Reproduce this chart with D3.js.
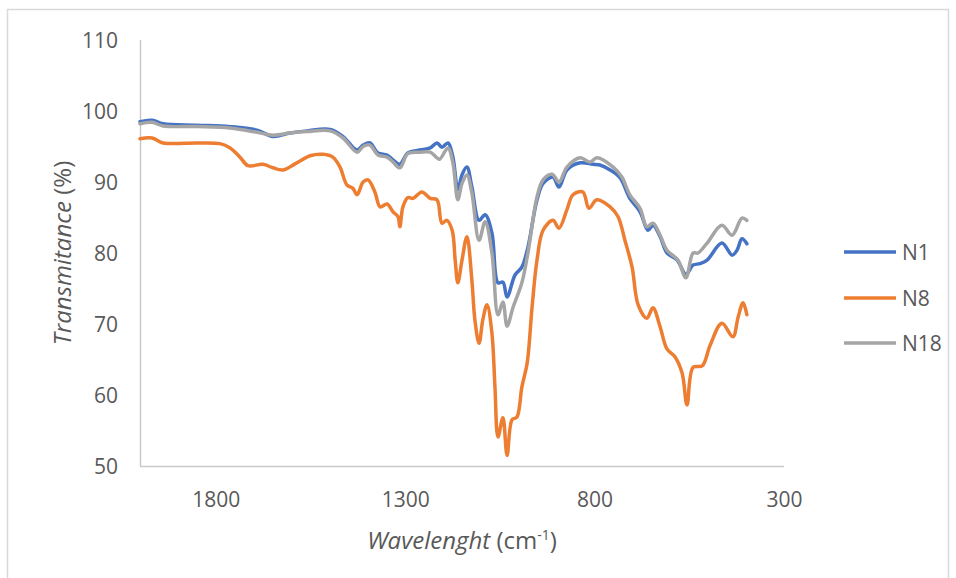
<!DOCTYPE html>
<html>
<head>
<meta charset="utf-8">
<script src="https://cdn.jsdelivr.net/npm/d3@7"></script>
<style>
  html, body { margin: 0; padding: 0; background: #fff; }
  svg { display: block; font-family: "Open Sans", "Noto Sans", sans-serif; }
</style>
</head>
<body>
<svg id="chart" width="956" height="578"></svg>
<script>
// FTIR spectra: wavenumber (cm-1) against transmittance (%)
const seriesNames = ["N1", "N8", "N18"];
const seriesColors = ["#4472C4", "#ED7D31", "#A5A5A5"];

const n1Wave = [2000, 1968, 1939, 1850, 1762, 1691, 1649, 1604, 1559, 1498, 1464, 1427, 1411, 1393, 1372, 1348, 1332, 1314, 1293, 1261, 1234, 1216, 1203, 1187, 1174, 1161, 1150, 1137, 1124, 1105, 1089, 1071, 1055, 1042, 1031, 1010, 992, 976, 952, 936, 910, 894, 873, 838, 804, 786, 759, 733, 707, 680, 659, 646, 627, 609, 582, 559, 540, 522, 503, 464, 437, 424, 411, 398];
const n1Trans = [98.5, 98.7, 98.2, 98.0, 97.8, 97.3, 96.4, 96.9, 97.2, 97.4, 96.4, 94.5, 95.2, 95.5, 94.1, 93.8, 93.1, 92.5, 94.1, 94.5, 94.8, 95.5, 94.9, 95.5, 93.5, 88.9, 91.0, 92.1, 89.3, 84.6, 85.4, 82.8, 75.8, 75.9, 73.8, 76.9, 78.0, 80.8, 87.5, 89.8, 90.7, 89.3, 91.7, 92.7, 92.5, 92.4, 91.7, 90.6, 87.7, 85.8, 83.2, 83.9, 82.3, 80.0, 79.0, 77.0, 78.3, 78.5, 79.0, 81.4, 79.7, 80.4, 82.0, 81.3];

const n8Wave = [2000, 1968, 1939, 1850, 1789, 1762, 1736, 1715, 1675, 1649, 1622, 1586, 1551, 1517, 1491, 1472, 1454, 1438, 1427, 1411, 1398, 1380, 1366, 1348, 1332, 1319, 1314, 1306, 1293, 1279, 1256, 1234, 1216, 1203, 1190, 1176, 1168, 1161, 1150, 1137, 1124, 1116, 1105, 1095, 1084, 1071, 1063, 1055, 1042, 1031, 1018, 1005, 992, 978, 965, 952, 936, 910, 894, 873, 857, 831, 815, 794, 759, 738, 720, 701, 685, 662, 646, 627, 609, 588, 569, 556, 540, 516, 495, 464, 435, 421, 408, 398];
const n8Trans = [96.1, 96.2, 95.5, 95.5, 95.4, 94.8, 93.5, 92.3, 92.5, 92.0, 91.7, 92.7, 93.7, 93.9, 93.5, 92.1, 89.6, 89.1, 88.2, 90.0, 90.3, 88.6, 86.5, 86.9, 85.8, 85.1, 83.7, 86.5, 87.8, 87.7, 88.6, 87.7, 87.5, 84.2, 84.6, 83.2, 79.0, 75.8, 79.0, 82.3, 76.2, 70.6, 67.3, 70.6, 72.7, 68.7, 61.1, 54.1, 56.8, 51.5, 56.5, 56.9, 61.1, 64.5, 72.4, 79.0, 83.2, 84.6, 83.5, 86.1, 88.2, 88.6, 86.3, 87.5, 86.5, 85.1, 81.8, 78.0, 72.7, 70.8, 72.3, 69.6, 66.5, 65.4, 63.1, 58.6, 63.9, 64.1, 67.0, 70.1, 68.2, 71.0, 73.0, 71.3];

const n18Wave = [2000, 1968, 1939, 1850, 1762, 1691, 1649, 1604, 1559, 1498, 1464, 1427, 1411, 1393, 1372, 1348, 1332, 1314, 1293, 1261, 1234, 1216, 1209, 1187, 1174, 1161, 1150, 1137, 1124, 1105, 1089, 1071, 1055, 1042, 1031, 1015, 992, 976, 952, 936, 912, 894, 873, 838, 812, 794, 751, 728, 707, 680, 662, 646, 627, 609, 580, 559, 540, 527, 503, 464, 437, 411, 398];
const n18Trans = [98.2, 98.4, 97.9, 97.8, 97.6, 97.0, 96.6, 96.9, 97.1, 97.2, 96.2, 94.2, 95.0, 95.2, 93.8, 93.5, 92.8, 92.0, 94.0, 94.2, 94.2, 93.4, 93.2, 94.8, 92.7, 87.5, 89.8, 91.0, 88.5, 81.8, 84.4, 80.0, 71.3, 73.1, 69.7, 72.4, 75.8, 80.0, 87.9, 90.3, 91.1, 90.0, 92.1, 93.4, 92.8, 93.4, 92.1, 90.7, 88.2, 86.3, 83.7, 84.2, 82.5, 80.4, 79.0, 76.5, 80.0, 80.0, 81.4, 83.9, 82.5, 84.9, 84.6];

const xTicks = [1800, 1300, 800, 300];
const yTicks = [50, 60, 70, 80, 90, 100, 110];

const seriesData = [
  { name: seriesNames[0], color: seriesColors[0], pts: n1Wave.map((w, i) => [w, n1Trans[i]]) },
  { name: seriesNames[1], color: seriesColors[1], pts: n8Wave.map((w, i) => [w, n8Trans[i]]) },
  { name: seriesNames[2], color: seriesColors[2], pts: n18Wave.map((w, i) => [w, n18Trans[i]]) }
];

const svg = d3.select("#chart");
const textColor = "#595959";
const fontSize = 21;
const titleSize = 24;

// chart frame
svg.append("rect")
  .attr("x", 7.5).attr("y", 9.5)
  .attr("width", 941).attr("height", 620)
  .attr("fill", "#fff")
  .attr("stroke", "#d9d9d9").attr("stroke-width", 1.5);

const plot = { left: 140, right: 784, top: 40, bottom: 466 };

const x = d3.scaleLinear().domain([2000, 300]).range([plot.left, plot.right]);
const y = d3.scaleLinear().domain([50, 110]).range([plot.bottom, plot.top]);

// axes (no tick marks, just the lines and labels)
const xAxis = d3.axisBottom(x).tickValues(xTicks).tickSize(0).tickPadding(0).tickFormat(d3.format("d"));
const yAxis = d3.axisLeft(y).tickValues(yTicks).tickSize(0).tickPadding(0).tickFormat(d3.format("d"));

const gx = svg.append("g").attr("transform", `translate(0,${plot.bottom})`).call(xAxis);
gx.select(".domain").attr("d", `M${plot.left},0.5H${plot.right}`).attr("stroke", "#c9c9c9").attr("stroke-width", 1.5);
gx.selectAll(".tick text")
  .attr("y", 41).attr("dy", null)
  .attr("fill", textColor).attr("font-size", fontSize)
  .attr("font-family", "'Open Sans', sans-serif");

const gy = svg.append("g").attr("transform", `translate(${plot.left},0)`).call(yAxis);
gy.select(".domain").attr("d", `M0.5,${plot.top}V${plot.bottom}`).attr("stroke", "#c9c9c9").attr("stroke-width", 1.5);
gy.selectAll(".tick text")
  .attr("x", -22).attr("dy", "0.36em")
  .attr("fill", textColor).attr("font-size", fontSize)
  .attr("font-family", "'Open Sans', sans-serif");

// spectra, drawn in series order so N18 sits on top of N1
const line = d3.line()
  .x(d => x(d[0]))
  .y(d => y(d[1]))
  .curve(d3.curveCatmullRom.alpha(0.5));

svg.append("g")
  .selectAll("path")
  .data(seriesData)
  .join("path")
    .attr("d", d => line(d.pts))
    .attr("fill", "none")
    .attr("stroke", d => d.color)
    .attr("stroke-width", 3.5)
    .attr("stroke-linejoin", "round")
    .attr("stroke-linecap", "round");

// axis titles
const xTitle = svg.append("text")
  .attr("x", (plot.left + plot.right) / 2)
  .attr("y", 549)
  .attr("text-anchor", "middle")
  .attr("fill", textColor)
  .attr("font-size", titleSize);
xTitle.append("tspan").attr("font-style", "italic").text("Wavelenght");
xTitle.append("tspan").text(" (cm");
xTitle.append("tspan").attr("dy", -9).attr("font-size", 14).text("-1");
xTitle.append("tspan").attr("dy", 9).text(")");

const yTitle = svg.append("text")
  .attr("transform", `translate(71,${(plot.top + plot.bottom) / 2}) rotate(-90)`)
  .attr("text-anchor", "middle")
  .attr("fill", textColor)
  .attr("font-size", titleSize);
yTitle.append("tspan").attr("font-style", "italic").text("Transmitance");
yTitle.append("tspan").text(" (%)");

// legend
const legendY = [252, 298, 343];
const legend = svg.append("g");
seriesData.forEach((s, i) => {
  legend.append("line")
    .attr("x1", 844).attr("x2", 896)
    .attr("y1", legendY[i]).attr("y2", legendY[i])
    .attr("stroke", s.color).attr("stroke-width", 3.5);
  legend.append("text")
    .attr("x", 902).attr("y", legendY[i])
    .attr("dy", "0.36em")
    .attr("fill", textColor)
    .attr("font-size", fontSize)
    .text(s.name);
});
</script>
</body>
</html>
